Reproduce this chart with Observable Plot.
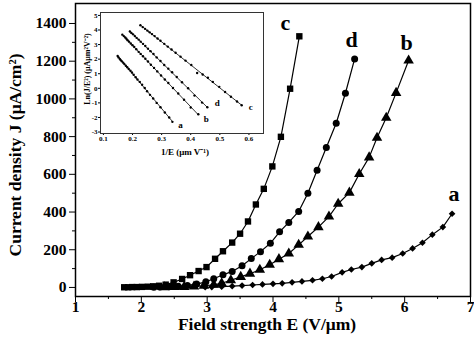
<!DOCTYPE html>
<html>
<head>
<meta charset="utf-8">
<script src="https://cdn.jsdelivr.net/npm/d3@7"></script>
<script src="https://cdn.jsdelivr.net/npm/@observablehq/plot@0.6"></script>
<style>
  html, body { margin: 0; padding: 0; background: white; }
  #wrap { position: relative; width: 474px; height: 344px; }
  #inset { position: absolute; left: 78px; top: 6px; }
  #wrap svg, #wrap svg text { font-family: 'Liberation Serif', 'Times New Roman', serif !important; font-weight: bold; }
</style>
</head>
<body>
<div id="wrap"><div id="main"></div><div id="inset"></div></div>
<script>
// ---- main chart data: field strength E (V/μm) and current density J (μA/cm²)
const seriesKeys = ["a", "b", "c", "d"];
const E_a = [2.97, 3.07, 3.22, 3.38, 3.53, 3.69, 3.84, 4.00, 4.14, 4.29, 4.44, 4.60, 4.75, 4.89, 5.05, 5.19, 5.35, 5.50, 5.65, 5.81, 5.97, 6.12, 6.27, 6.42, 6.58, 6.72];
const J_a = [1, 2, 4, 7, 10, 13, 16, 19, 22, 27, 32, 38, 46, 58, 80, 95, 108, 128, 146, 158, 180, 207, 237, 280, 320, 391];
const E_b = [2.35, 2.50, 2.65, 2.80, 2.95, 3.10, 3.22, 3.36, 3.51, 3.65, 3.80, 3.95, 4.09, 4.24, 4.39, 4.53, 4.69, 4.85, 4.99, 5.16, 5.31, 5.46, 5.58, 5.72, 5.87, 6.06];
const J_b = [1, 2, 3, 5, 9, 14, 22, 38, 56, 73, 94, 120, 150, 180, 226, 270, 320, 376, 444, 503, 602, 690, 794, 900, 1032, 1204];
const E_c = [1.74, 1.80, 1.86, 1.93, 2.01, 2.10, 2.18, 2.27, 2.37, 2.49, 2.62, 2.74, 2.87, 2.99, 3.12, 3.24, 3.38, 3.50, 3.62, 3.74, 3.86, 3.99, 4.12, 4.26, 4.40];
const J_c = [1, 1, 2, 2, 3, 4, 6, 9, 15, 27, 45, 65, 87, 108, 152, 192, 238, 285, 350, 440, 523, 642, 799, 1054, 1332];
const E_d = [2.19, 2.28, 2.42, 2.56, 2.70, 2.84, 2.98, 3.10, 3.24, 3.38, 3.53, 3.67, 3.81, 3.96, 4.10, 4.24, 4.39, 4.53, 4.67, 4.81, 4.96, 5.10, 5.24];
const J_d = [1, 2, 4, 7, 11, 18, 30, 46, 67, 85, 115, 153, 190, 234, 295, 345, 403, 500, 622, 742, 871, 1030, 1212];

// ---- inset data: 1/E (μm V⁻¹) and Ln(J/E²)
const iX_a = [0.149, 0.152, 0.156, 0.159, 0.163, 0.168, 0.172, 0.177, 0.182, 0.187, 0.193, 0.198, 0.204, 0.211, 0.217, 0.225, 0.233, 0.242, 0.250, 0.260, 0.271, 0.283, 0.296, 0.311, 0.326, 0.337];
const iY_a = [2.22, 2.12, 2.02, 1.95, 1.86, 1.76, 1.66, 1.55, 1.44, 1.32, 1.20, 1.08, 0.93, 0.76, 0.60, 0.44, 0.24, 0.02, -0.20, -0.45, -0.70, -1.00, -1.30, -1.66, -2.00, -2.30];
const iX_b = [0.165, 0.170, 0.175, 0.179, 0.183, 0.188, 0.194, 0.200, 0.206, 0.213, 0.221, 0.228, 0.236, 0.244, 0.253, 0.263, 0.274, 0.285, 0.298, 0.311, 0.323, 0.339, 0.357, 0.377, 0.400, 0.426];
const iY_b = [3.68, 3.58, 3.48, 3.40, 3.30, 3.20, 3.07, 2.95, 2.83, 2.68, 2.50, 2.36, 2.20, 2.03, 1.84, 1.62, 1.40, 1.16, 0.88, 0.60, 0.36, 0.02, -0.36, -0.78, -1.32, -1.78];
const iX_c = [0.227, 0.235, 0.243, 0.251, 0.259, 0.267, 0.276, 0.286, 0.296, 0.309, 0.321, 0.334, 0.348, 0.365, 0.382, 0.402, 0.422, 0.441, 0.459, 0.476, 0.498, 0.518, 0.538, 0.559, 0.575];
const iY_c = [4.33, 4.20, 4.08, 3.96, 3.84, 3.72, 3.58, 3.42, 3.26, 3.05, 2.86, 2.66, 2.44, 2.17, 1.90, 1.60, 1.05, 0.95, 0.72, 0.44, 0.10, -0.25, -0.58, -0.90, -1.16];
const iX_d = [0.191, 0.196, 0.202, 0.208, 0.214, 0.221, 0.228, 0.236, 0.244, 0.253, 0.262, 0.272, 0.283, 0.296, 0.309, 0.323, 0.336, 0.352, 0.370, 0.391, 0.413, 0.439, 0.457];
const iY_d = [3.90, 3.80, 3.70, 3.58, 3.46, 3.34, 3.20, 3.05, 2.90, 2.72, 2.55, 2.35, 2.12, 1.87, 1.60, 1.35, 1.10, 0.78, 0.42, 0.00, -0.50, -0.98, -1.30];

// ---- ticks and titles
const xTicks = [1, 2, 3, 4, 5, 6, 7];
const xMinor = [1.5, 2.5, 3.5, 4.5, 5.5, 6.5];
const yTicks = [0, 200, 400, 600, 800, 1000, 1200, 1400];
const yMinor = [100, 300, 500, 700, 900, 1100, 1300];
const xTitle = "Field strength E (V/μm)";
const yTitle = "Current density J (μA/cm²)";
const ixTicks = [0.1, 0.2, 0.3, 0.4, 0.5, 0.6];
const iyTicks = [-3, -2, -1, 0, 1, 2, 3, 4, 5];
const ixTitle = "1/E (μm V⁻¹)";
const iyTitle = "Ln(J/E²) (μAμm²V⁻²)";

const mainRows = [];
[[ "a", E_a, J_a ], [ "b", E_b, J_b ], [ "c", E_c, J_c ], [ "d", E_d, J_d ]].forEach(([s, E, J]) => {
  E.forEach((e, i) => mainRows.push({ s, E: e, J: J[i] }));
});
const insetRows = [];
[[ "a", iX_a, iY_a ], [ "b", iX_b, iY_b ], [ "c", iX_c, iY_c ], [ "d", iX_d, iY_d ]].forEach(([s, X, Y]) => {
  X.forEach((x, i) => insetRows.push({ s, x, y: Y[i] }));
});

const font = "Liberation Serif";
const symbolSpec = { a: ["diamond2", 3.0], b: ["triangle", 3.9], c: ["square", 3.6], d: ["circle", 3.5] };
const labelOffset = { a: [2, -20], b: [-2, -17], c: [-14, -13], d: [-3, -19] };
const intFmt = d => String(d);

const mainMarks = [
  Plot.axisX({ ticks: xTicks, tickSize: 6, tickPadding: -2, tickFormat: intFmt, label: null, fontSize: 15.5 }),
  Plot.axisX({ ticks: xMinor, tickSize: 3, tickFormat: () => "", label: null }),
  Plot.axisY({ ticks: yTicks, tickSize: 6, tickPadding: 3, tickFormat: intFmt, label: null, fontSize: 15.5 }),
  Plot.axisY({ ticks: yMinor, tickSize: 3, tickFormat: () => "", label: null }),
  Plot.frame({ stroke: "black", strokeWidth: 1.5 }),
  Plot.line(mainRows, { x: "E", y: "J", z: "s", stroke: "black", strokeWidth: 1.2 })
];
seriesKeys.forEach(k => {
  const rows = mainRows.filter(d => d.s === k);
  mainMarks.push(Plot.dot(rows, { x: "E", y: "J", symbol: symbolSpec[k][0], r: symbolSpec[k][1], fill: "black", stroke: "none" }));
  mainMarks.push(Plot.text(rows, Plot.selectLast({ x: "E", y: "J", text: "s", dx: labelOffset[k][0], dy: labelOffset[k][1], fontSize: 22, fontWeight: "bold", fill: "black" })));
});
mainMarks.push(Plot.text([xTitle], { frameAnchor: "bottom", textAnchor: "middle", text: d => d, dx: -6, dy: 28, lineAnchor: "middle", fontSize: 17.5, fontWeight: "bold", lineWidth: 100 }));
mainMarks.push(Plot.text([yTitle], { frameAnchor: "left", textAnchor: "middle", text: d => d, rotate: -90, dx: -60, dy: 5, lineAnchor: "middle", fontSize: 17.5, fontWeight: "bold", lineWidth: 100 }));

const mainPlot = Plot.plot({
  width: 474, height: 344,
  marginLeft: 75, marginRight: 4, marginTop: 3, marginBottom: 48,
  style: { fontFamily: font, fontWeight: "bold", fontSize: "16px", background: "white", color: "black", overflow: "visible" },
  x: { domain: [1, 7] },
  y: { domain: [-48, 1506] },
  marks: mainMarks
});
document.getElementById("main").appendChild(mainPlot);

// ---- inset
const insetLabelOffset = { a: [8, 3], b: [8, 5], c: [9, 2], d: [10, -4] };
const insetMarks = [
  Plot.axisX({ ticks: ixTicks, tickSize: 2, tickPadding: 1, tickFormat: d => d.toFixed(1), label: null, fontSize: 7 }),
  Plot.axisY({ ticks: iyTicks, tickSize: 2, tickPadding: 1, tickFormat: intFmt, label: null, fontSize: 7 }),
  Plot.frame({ stroke: "#333", strokeWidth: 1 }),
  Plot.linearRegressionY(insetRows, { x: "x", y: "y", z: "s", stroke: "black", strokeWidth: 0.8, ci: 0 }),
  Plot.dot(insetRows, { x: "x", y: "y", r: 1.2, fill: "black", stroke: "none" })
];
seriesKeys.forEach(k => {
  const rows = insetRows.filter(d => d.s === k);
  insetMarks.push(Plot.text(rows, Plot.selectLast({ x: "x", y: "y", text: "s", dx: insetLabelOffset[k][0], dy: insetLabelOffset[k][1], fontSize: 9, fontWeight: "bold", fill: "black" })));
});
insetMarks.push(Plot.text([ixTitle], { frameAnchor: "bottom", textAnchor: "middle", text: d => d, dx: 3, dy: 19, lineAnchor: "middle", fontSize: 9, fontWeight: "bold", lineWidth: 100 }));
insetMarks.push(Plot.text([iyTitle], { frameAnchor: "left", textAnchor: "middle", text: d => d, rotate: -90, dx: -13.5, dy: -4, lineAnchor: "middle", fontSize: 8, fontWeight: "bold", lineWidth: 100 }));

const insetPlot = Plot.plot({
  width: 192, height: 154,
  marginLeft: 22, marginRight: 7, marginTop: 6, marginBottom: 27,
  style: { fontFamily: font, fontWeight: "bold", fontSize: "7px", background: "transparent", color: "black", overflow: "visible" },
  x: { domain: [0.09, 0.65] },
  y: { domain: [-3.1, 5.2] },
  marks: insetMarks
});
document.getElementById("inset").appendChild(insetPlot);
</script>
</body>
</html>
